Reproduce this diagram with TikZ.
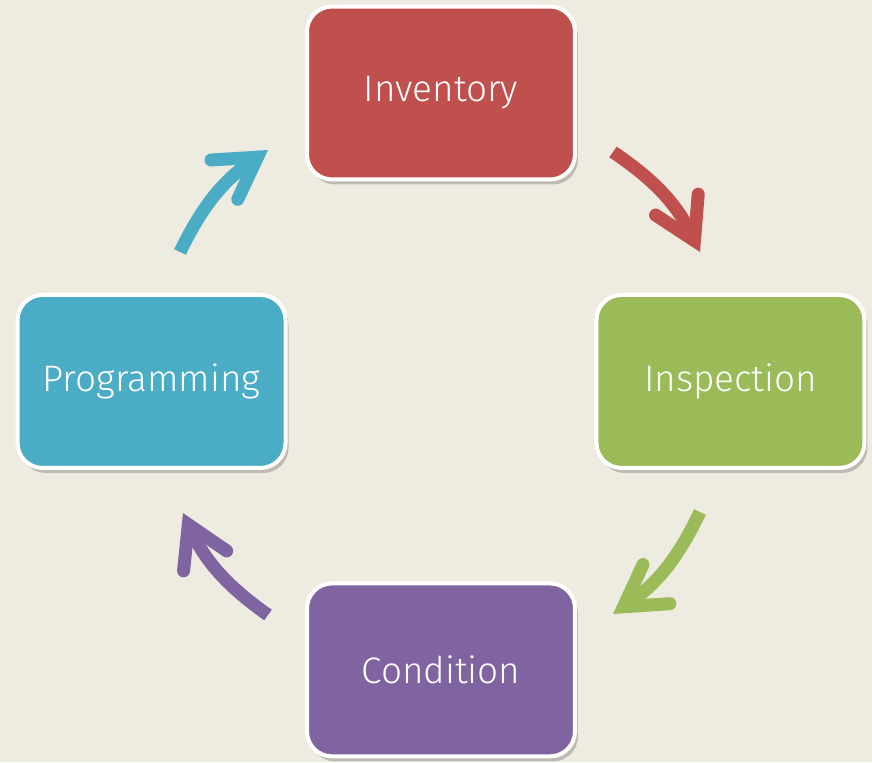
\documentclass[tikz,border=0pt]{standalone}
\usepackage{fontspec}
\setmainfont{Fira Sans Light}
\usetikzlibrary{arrows.meta, positioning, shadows}
\definecolor{bgtan}{HTML}{EEECE1}
\definecolor{invred}{HTML}{C0504D}
\definecolor{insgreen}{HTML}{9BBB59}
\definecolor{conpurple}{HTML}{8064A2}
\definecolor{progblue}{HTML}{4BACC6}
\tikzstyle{stage}=[rectangle, rounded corners=0.5cm, draw=white, line width=0.08cm,
  minimum width=5.36cm, minimum height=3.46cm, text=white,
  font=\fontsize{21}{25}\selectfont,
  drop shadow={shadow xshift=0.06cm, shadow yshift=-0.1cm, opacity=0.3, fill=black!70}]
\tikzstyle{cycle}=[line width=0.26cm, line cap=butt,
  -{Straight Barb[length=0.8cm, width=0.95cm, line width=0.26cm, line cap=round, line join=miter]}]

\begin{document}
\begin{tikzpicture}[x=0.02cm, y=-0.02cm]
  \fill[bgtan] (0,0) rectangle (872,762);
  \useasboundingbox (0,0) rectangle (872,762);
  % the four stages, clockwise from the top
  \node[stage, fill=invred] (inv) at (441,93) {Inventory};
  \node[stage, fill=insgreen, on grid, below right=5.77cm and 5.79cm of inv] (insp) {Inspection};
  \node[stage, fill=conpurple, on grid, below left=5.77cm and 5.79cm of insp] (cond) {Condition};
  \node[stage, fill=progblue, on grid, above left=5.77cm and 5.79cm of cond] (prog) {Programming};
  % arrow ends
  \coordinate (invout) at (613,152);
  \coordinate (inspin) at (700,252);
  \coordinate (inspout) at (700,512);
  \coordinate (condin) at (613,614);
  \coordinate (condout) at (268,615);
  \coordinate (progin) at (183,513);
  \coordinate (progout) at (180,252);
  \coordinate (invin) at (268,150);
  \draw[cycle, invred] (invout) to[bend left=15] (inspin);
  \draw[cycle, insgreen] (inspout) to[bend left=15] (condin);
  \draw[cycle, conpurple] (condout) to[bend left=15] (progin);
  \draw[cycle, progblue] (progout) to[bend left=15] (invin);
\end{tikzpicture}
\end{document}
